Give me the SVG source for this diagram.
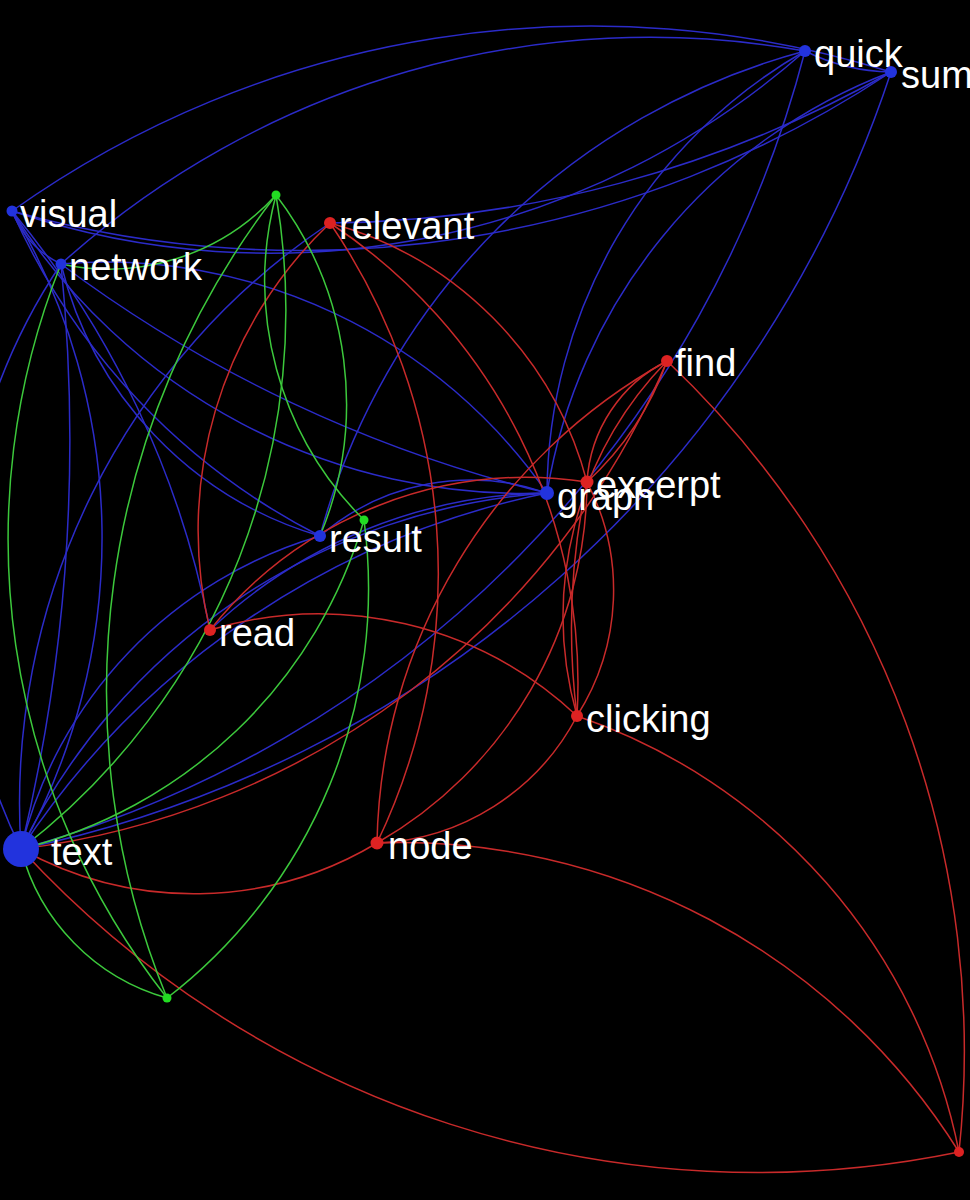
<svg xmlns="http://www.w3.org/2000/svg" width="970" height="1200" viewBox="0 0 970 1200">
<style>
.e{fill:none;stroke-width:1.5}
.b{stroke:#2b2bc8}
.r{stroke:#c82a2a}
.g{stroke:#3cc83c}
.nb{fill:#2233dd}
.nr{fill:#dd2222}
.ng{fill:#22dd22}
text{font-family:"Liberation Sans",Arial,Helvetica,sans-serif;font-size:38px;fill:#ffffff}
</style>
<rect width="970" height="1200" fill="#000000"/>
<g id="connectors">
<path class="e b" d="M12,211 A1000,1000 0 0,1 891,72"/>
<path class="e b" d="M61,264 A880,880 0 0,1 805,51"/>
<path class="e b" d="M12,211 A809,809 0 0,0 805,51"/>
<path class="e b" d="M12,211 A1068,1068 0 0,0 891,72"/>
<path class="e b" d="M805,51 A200,200 0 0,0 891,72"/>
<path class="e b" d="M805,51 A512,512 0 0,0 547,493"/>
<path class="e b" d="M805,51 A686,686 0 0,0 320,536"/>
<path class="e b" d="M21,849 A1119,1119 0 0,0 805,51"/>
<path class="e b" d="M21,849 A1167,1167 0 0,0 891,72"/>
<path class="e b" d="M891,72 A544,544 0 0,0 547,493"/>
<path class="e b" d="M330,223 A1162,1162 0 0,0 891,72"/>
<path class="e b" d="M21,849 A698,698 0 0,1 330,223"/>
<path class="e b" d="M12,211 A100,100 0 0,0 61,264"/>
<path class="e b" d="M12,211 A638,638 0 0,1 21,849"/>
<path class="e b" d="M61,264 A586,586 0 0,0 21,849"/>
<path class="e b" d="M61,264 A1750,1750 0 0,1 21,849"/>
<path class="e b" d="M12,211 A670,670 0 0,0 320,536"/>
<path class="e b" d="M61,264 A376,376 0 0,0 320,536"/>
<path class="e b" d="M61,264 A537,537 0 0,1 547,493"/>
<path class="e b" d="M61,264 A1340,1340 0 0,0 547,493"/>
<path class="e b" d="M12,211 A605,605 0 0,0 547,493"/>
<path class="e b" d="M12,211 A930,930 0 0,1 210,630"/>
<path class="e b" d="M320,536 A231,231 0 0,1 547,493"/>
<path class="e b" d="M21,849 A635,635 0 0,1 547,493" stroke-width="3.2"/>
<path class="e b" d="M21,849 A830,830 0 0,1 547,493"/>
<path class="e b" d="M21,849 A433,433 0 0,1 320,536"/>
<path class="e b" d="M210,630 A500,500 0 0,1 547,493"/>
<path class="e r" d="M330,223 A424,424 0 0,0 210,630"/>
<path class="e r" d="M330,223 A622,622 0 0,1 377,843"/>
<path class="e r" d="M330,223 A551,551 0 0,1 577,716"/>
<path class="e r" d="M330,223 A365,365 0 0,1 587,482"/>
<path class="e r" d="M210,630 A377,377 0 0,1 577,716"/>
<path class="e r" d="M210,630 A405,405 0 0,1 587,482"/>
<path class="e r" d="M377,843 A562,562 0 0,1 667,361"/>
<path class="e r" d="M377,843 A418,418 0 0,0 587,482"/>
<path class="e r" d="M377,843 A237,237 0 0,0 577,716"/>
<path class="e r" d="M21,849 A356,356 0 0,0 377,843"/>
<path class="e r" d="M377,843 A659,659 0 0,1 959,1152"/>
<path class="e r" d="M21,849 A1000,1000 0 0,0 959,1152"/>
<path class="e r" d="M577,716 A580,580 0 0,1 959,1152"/>
<path class="e r" d="M667,361 A950,950 0 0,1 959,1152"/>
<path class="e r" d="M21,849 A810,810 0 0,0 667,361"/>
<path class="e r" d="M587,482 A234,234 0 0,1 577,716"/>
<path class="e r" d="M587,482 A700,700 0 0,0 577,716"/>
<path class="e r" d="M667,361 A145,145 0 0,0 587,482"/>
<path class="e r" d="M667,361 A300,300 0 0,1 587,482"/>
<path class="e r" d="M667,361 A366,366 0 0,0 577,716"/>
<path class="e g" d="M61,264 A226,226 0 0,0 276,195"/>
<path class="e g" d="M276,195 A680,680 0 0,1 21,849"/>
<path class="e g" d="M276,195 A810,810 0 0,0 167,998"/>
<path class="e g" d="M276,195 A337,337 0 0,0 364,520"/>
<path class="e g" d="M276,195 A344,344 0 0,1 320,536"/>
<path class="e g" d="M364,520 A475,475 0 0,1 21,849"/>
<path class="e g" d="M364,520 A517,517 0 0,1 167,998"/>
<path class="e g" d="M61,264 A742,742 0 0,0 167,998"/>
<path class="e g" d="M21,849 A209,209 0 0,0 167,998"/>
</g>
<g id="n-g1"><circle class="ng" cx="276" cy="195" r="4.5"/></g>
<g id="n-g2"><circle class="ng" cx="364" cy="520" r="4.5"/></g>
<g id="n-g3"><circle class="ng" cx="167" cy="998" r="4.5"/></g>
<g id="n-br"><circle class="nr" cx="959" cy="1152" r="5"/></g>
<g id="n-quick"><circle class="nb" cx="805" cy="51" r="6"/><text x="814" y="67">quick</text></g>
<g id="n-sum"><circle class="nb" cx="891" cy="72" r="6"/><text x="901" y="88">sum</text></g>
<g id="n-visual"><circle class="nb" cx="12" cy="211" r="5.5"/><text x="20" y="227">visual</text></g>
<g id="n-network"><circle class="nb" cx="61" cy="264" r="5.5"/><text x="69" y="280">network</text></g>
<g id="n-relevant"><circle class="nr" cx="330" cy="223" r="6"/><text x="339" y="239">relevant</text></g>
<g id="n-find"><circle class="nr" cx="667" cy="361" r="6"/><text x="675" y="376">find</text></g>
<g id="n-graph"><circle class="nb" cx="547" cy="493" r="7"/><text x="557" y="510">graph</text></g>
<g id="n-excerpt"><circle class="nr" cx="587" cy="482" r="6.5"/><text x="596" y="498">excerpt</text></g>
<g id="n-result"><circle class="nb" cx="320" cy="536" r="6"/><text x="329" y="552">result</text></g>
<g id="n-read"><circle class="nr" cx="210" cy="630" r="6"/><text x="219" y="646">read</text></g>
<g id="n-clicking"><circle class="nr" cx="577" cy="716" r="6"/><text x="586" y="732">clicking</text></g>
<g id="n-node"><circle class="nr" cx="377" cy="843" r="6.5"/><text x="388" y="859">node</text></g>
<g id="n-text"><circle class="nb" cx="21" cy="849" r="18"/><text x="51" y="865">text</text></g>
</svg>
